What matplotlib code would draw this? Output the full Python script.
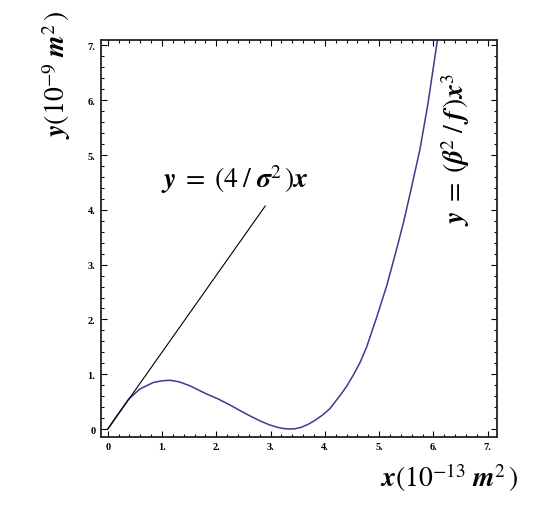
import numpy as np
import matplotlib
matplotlib.use('Agg')
import matplotlib.pyplot as plt
from matplotlib.ticker import MultipleLocator, FixedFormatter, FixedLocator

# curve (x in 1e-13 m^2, y in 1e-9 m^2)
curve_x = [0.0, 0.16, 0.38, 0.59, 0.84, 1.0, 1.15, 1.32, 1.51, 1.82, 2.03, 2.25,
           2.43, 2.62, 2.80, 2.97, 3.11, 3.23, 3.35, 3.45, 3.56, 3.70, 3.82, 3.95,
           4.09, 4.27, 4.40, 4.52, 4.65, 4.77, 4.95, 5.14, 5.32, 5.45, 5.57, 5.75,
           5.90, 6.05, 6.10]
curve_y = [0.0, 0.23, 0.54, 0.73, 0.85, 0.88, 0.89, 0.86, 0.79, 0.64, 0.55, 0.44,
           0.34, 0.24, 0.15, 0.08, 0.035, 0.01, 0.0, 0.005, 0.03, 0.09, 0.16, 0.25,
           0.37, 0.60, 0.78, 0.98, 1.22, 1.50, 2.03, 2.62, 3.28, 3.78, 4.30, 5.10,
           5.95, 6.95, 7.30]

# straight line y = (4/sigma^2) x
line_x = [0.0, 2.90]
line_y = [0.0, 4.07]

ticks = [0, 1, 2, 3, 4, 5, 6, 7]
tick_labels = ['0', '1.', '2.', '3.', '4.', '5.', '6.', '7.']

plt.rcParams['mathtext.fontset'] = 'stix'

W, H = 545, 506
fig = plt.figure(figsize=(W / 100, H / 100), dpi=100)
ax = fig.add_axes([101 / W, 1 - 437.7 / H, (497 - 101) / W, (437.7 - 41) / H])

ax.plot(curve_x, curve_y, color='#3c3c8c', lw=1.1)
ax.plot(line_x, line_y, color='black', lw=0.8)

ax.set_xlim(-0.125, 7.17)
ax.set_ylim(-0.14, 7.10)

for axis in (ax.xaxis, ax.yaxis):
    axis.set_major_locator(FixedLocator(ticks))
    axis.set_major_formatter(FixedFormatter(tick_labels))
    axis.set_minor_locator(MultipleLocator(0.2))

ax.tick_params(which='both', direction='in', top=True, right=True, width=0.8)
ax.tick_params(which='major', length=4, labelsize=7.5, pad=4)
ax.tick_params(which='minor', length=2)
for lab in ax.get_xticklabels() + ax.get_yticklabels():
    lab.set_family('Liberation Serif')
    lab.set_weight('bold')

for sp in ax.spines.values():
    sp.set_linewidth(1.3)
    sp.set_color('#222222')

# axis titles
fig.text(449 / W, 1 - 478 / H, r'$\mathbfit{x}(10^{-13}\;\mathbfit{m}^{2}\,)$',
         fontsize=20, ha='center', va='center')
fig.text(57 / W, 1 - 75 / H, r'$\mathbfit{y}(10^{-9}\;\mathbfit{m}^{2}\,)$',
         fontsize=20, ha='center', va='center', rotation=90)

# formula labels
fig.text(235 / W, 1 - 180 / H,
         r'$\mathbfit{y}\;=\;(4\;/\;\mathbfit{\sigma}^{2}\,)\mathbfit{x}$',
         fontsize=20, ha='center', va='center')
fig.text(456 / W, 1 - 150 / H,
         r'$\mathbfit{y}\;=\;(\mathbfit{\beta}^{2}\;/\;\mathbfit{f}\,)\mathbfit{x}^{3}$',
         fontsize=20, ha='center', va='center', rotation=90)

fig.savefig('out.png', dpi=100)
